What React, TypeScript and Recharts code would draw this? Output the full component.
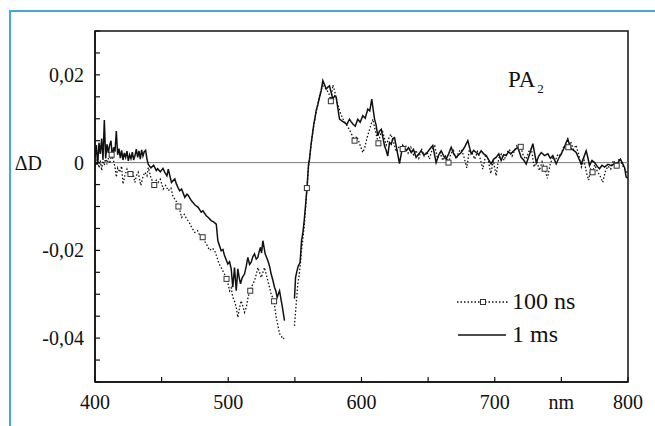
import React from 'react';
import { ComposedChart, Line, Scatter, XAxis, YAxis, ReferenceLine, ReferenceArea } from 'recharts';

// wavelength (nm) and ΔD for the 1 ms spectrum (solid line); null = gap in the trace
const solidNm = [400,401,402,403,404,405,406,407,408,409,410,411,412,413,414,415,416,417,418,419,420,421,422,423,424,425,426,427,428,429,430,431,432,433,434,435,436,437,438,439,440,442,444,446,447,449,451,452.4,454,455,457.4,459.9,461,462.5,463.6,465,467.4,469,470,472.4,474.9,477.4,479.7,481,483.5,485,487.2,489,491,492.2,494.7,496,497.2,499.7,501,502.2,503.4,504.7,506,507.2,508.2,509.2,510.5,512.2,513.5,514.7,516,517.2,518.5,519.7,521,522.2,523.2,524.2,525,526,527.7,529.7,531,532.2,533.5,534.7,535.7,536.7,537.5,538.5,539.5,540.2,541.2,542.2,546,549.7,550.5,551.5,552.5,553.9,555,556,557,558,559.2,560.2,561,562.2,563.2,564.2,565,566,567.2,568.5,569.8,571,572.2,573.5,574.8,576,577.2,578.5,579.8,581,582.2,583.5,585.3,587.2,589,591,592.3,593.5,595.3,597.2,599,601,602.8,604.7,606.2,607.7,608.8,609.8,611,612.2,613.5,614.8,616,617.3,618.5,619.7,621,622.3,623.5,624.8,626.5,628.5,631,633.5,635.3,637.3,639,641,643,644.8,646.7,648.5,651,653.5,656,658,659.8,661.7,663.5,665.4,667.3,669.2,671,673,674.8,677.3,679.8,682.3,684.2,686,688,689.8,691.7,693.6,695.5,697.3,699.2,701,703,704.8,706.7,708.6,710.3,712,714.6,717.3,719.8,721.7,723.6,726,728.6,731.2,733,734.9,737.4,739.9,741.7,743.6,746.1,748,749.9,751.8,753.6,754.8,756,757.4,759.3,761.1,763,764.9,766.8,768.6,770,771.1,773,774.9,776.8,778.6,780.5,782.4,785,787.4,790,792.4,794.3,796.1,797.5,798.6,800];
const solidVal = [0.001,0.004,-0.0005,0.0045,0.002,0.0055,0.0008,0.0097,0.001,0.0042,0.0022,0.004,0.005,0.0012,0.0035,0.0025,0.0072,0.0018,0.0032,0.001,0.0028,0.0006,0.0022,0.0012,0.0026,0.0004,0.0018,0.0009,0.0024,0.0006,0.0016,0.0031,0.0012,0.0027,0.0008,0.0029,0.0015,0.0025,0.0028,0.0008,-0.0004,-0.0012,-0.0006,-0.0018,-0.0014,-0.0021,-0.0013,-0.0022,-0.003,-0.0015,-0.0045,-0.0037,-0.0048,-0.0058,-0.0064,-0.006,-0.0079,-0.0072,-0.0075,-0.0087,-0.0096,-0.0102,-0.0113,-0.011,-0.0121,-0.0125,-0.0132,-0.0135,-0.014,-0.0178,-0.0201,-0.0198,-0.0212,-0.0231,-0.0226,-0.0242,-0.0284,-0.0239,-0.0292,-0.0242,-0.0262,-0.0276,-0.0262,-0.0254,-0.0236,-0.0216,-0.0232,-0.0227,-0.0214,-0.0208,-0.022,-0.0216,-0.0203,-0.0193,-0.0206,-0.0178,-0.0208,-0.0223,-0.0236,-0.0254,-0.0268,-0.0284,-0.0292,-0.0307,-0.03,-0.0292,-0.031,-0.0322,-0.034,-0.036,null,-0.031,-0.0262,-0.0248,-0.0236,-0.0228,-0.0178,-0.016,-0.0132,-0.0098,-0.0055,-0.0005,0.0008,0.0043,0.0065,0.0088,0.01,0.0119,0.0132,0.0149,0.0165,0.0187,0.0178,0.0168,0.0172,0.0175,0.016,0.0145,0.0152,0.0149,0.0125,0.0099,0.0095,0.0091,0.0087,0.0099,0.0093,0.0088,0.0083,0.0099,0.0092,0.0107,0.0101,0.0122,0.0118,0.0145,0.012,0.0099,0.0085,0.0061,0.0072,0.0076,0.0058,0.0038,0.0028,0.0015,0.0046,0.0042,0.0055,0.0057,0.003,-0.0002,0.0039,0.0027,0.0034,0.0023,0.003,0.0012,0.002,0.0027,0.0018,0.002,0.003,0.0039,0,0.0018,0.0027,0.0015,0.0008,0.002,0.0035,0.002,0.0012,0.0018,0.0023,0.0035,0.005,0.002,0.0028,0.0023,0.0018,0.0027,0.002,0.0016,0.0006,-0.0003,0.0008,0.0012,0.002,0.0005,0.0018,0.0016,0.0025,0.002,0.0028,0.0035,0.0012,0.0006,-0.0003,0.0018,0.0043,0,0.0015,0.0023,0.0016,0.002,0.001,0.0016,-0.0003,0.001,0.002,0.0032,0.0046,0.0054,0.0042,0.0031,0.0028,0.0023,0.001,-0.0003,0.0012,0.0027,0.001,-0.0007,0.0005,0,-0.0008,-0.0014,-0.0006,-0.001,-0.0004,-0.0007,-0.0002,0,0.0008,-0.0003,-0.0012,-0.0033,-0.0035];

// wavelength (nm) and ΔD for the 100 ns spectrum (dotted line)
const dottedNm = [400,401,402,403,404,405,406,407,408,409,410,411,412.5,414,415,416,417,418.6,420,421,422.4,424,425.5,426.6,428,430,431,432.4,434.4,436,437.4,439,440,442,444.5,446,447.4,449,451.2,453,455,457,458.7,460.5,462.6,464,465,467,468.7,470.5,472.4,474.9,477,478.6,480.8,482.5,484,486,488,489.7,491.5,493,494.7,496.5,498.7,500,501,502.2,503.4,505,506,507.2,508.5,509.7,511,512.2,513.5,515,516.5,518,519.7,521,522.2,523.5,524.7,526,527.2,528.5,529.7,531,532.2,534.4,536,537.2,538.5,539.8,541,542,546,549.7,551,552.2,553,554,555,556,557,558,559,560,561,562,563,564,565,566,567,568,569,570,571,572.5,574,575.5,577,578.5,580,581.5,583,584.5,586,587.5,589,591,593,594.8,596.5,598,599.5,601,602.5,604,605.5,607,608.5,610,611.5,612.7,614,615.5,617,618.5,620,622,624,626,628,630.9,633,635,637,639,641,643,645,647,649,651,653,655,657,659,661,663,665.3,667,669,671,673,675,677,679,681,683,685,687,689,691,693,695,697,699,701,703,705,707,709,711,713,715,717,719.5,721.5,723.5,725.5,727.5,729.5,731.5,733.5,735.5,737.4,739.5,741.5,743.5,745.5,747.5,749.5,751.5,753.5,755.2,757,759,761,763,765,767,769,770.5,772,773.4,775,777,779,781,783,785,787,789,791.5,793.5,795.5,797.5,800];
const dottedVal = [-0.0003,-0.0007,0.0015,-0.0012,0.0005,-0.0018,0.0008,-0.0006,0.0012,-0.0004,0.001,-0.0002,0.0018,0.0003,-0.001,-0.0033,-0.0012,-0.0022,-0.0008,-0.0049,-0.003,-0.0015,-0.0028,-0.0026,-0.0018,-0.0045,-0.003,-0.0022,-0.0052,-0.0032,-0.0022,-0.003,-0.0011,-0.0035,-0.0051,-0.004,-0.0045,-0.0038,-0.006,-0.0052,-0.0064,-0.0058,-0.0079,-0.0085,-0.01,-0.0112,-0.0125,-0.0118,-0.0128,-0.0135,-0.0147,-0.0159,-0.0155,-0.0166,-0.017,-0.018,-0.0188,-0.02,-0.0195,-0.02,-0.0215,-0.023,-0.0239,-0.025,-0.0265,-0.0278,-0.0292,-0.0285,-0.0307,-0.0318,-0.033,-0.0353,-0.033,-0.0315,-0.0328,-0.0341,-0.033,-0.0305,-0.0292,-0.028,-0.0269,-0.0255,-0.0239,-0.025,-0.0262,-0.025,-0.0239,-0.0255,-0.0269,-0.0285,-0.0299,-0.0316,-0.0353,-0.037,-0.039,-0.0395,-0.0402,-0.04,null,-0.0372,-0.0321,-0.0277,-0.0261,-0.0235,-0.02,-0.0175,-0.0145,-0.0105,-0.0058,-0.002,0.001,0.0035,0.006,0.008,0.01,0.0115,0.013,0.0145,0.0158,0.0168,0.0175,0.0172,0.0165,0.0158,0.014,0.0177,0.0162,0.014,0.0125,0.011,0.01,0.0092,0.0085,0.0075,0.0062,0.005,0.006,0.0048,0.0035,0.0023,0.0035,0.0055,0.007,0.0085,0.0099,0.0078,0.0058,0.0044,0.0062,0.0075,0.0058,0.004,0.0052,0.0065,0.0048,0.0025,0.0035,0.0031,0.004,0.0022,0.0035,0.0018,0.0028,0.001,0.0032,0.0015,0.0025,0.0008,0.003,0.0038,0.001,0.0022,0.0005,0.0015,0,0.002,0.0028,0.0008,0.0025,0.003,0.0012,-0.0012,0.003,0.0022,0.0008,0.0025,0.001,-0.0015,0.0015,0.0008,-0.0025,0.0005,-0.003,0.001,0.002,0.0005,0.0022,0.003,0.0015,0.0028,0.0042,0.0036,0.0015,0.0008,0.0025,0.0032,-0.001,0.0005,-0.0018,0.0002,-0.0014,-0.0036,-0.0005,0.0012,0.0005,0.002,0.0015,0.0035,0.004,0.0035,0.0048,0.003,0.004,0.0018,-0.001,0.0005,-0.0025,-0.004,-0.0015,-0.0022,-0.0005,-0.002,-0.003,-0.0045,-0.002,-0.0008,-0.0015,0.0005,-0.0007,0.001,-0.0004,-0.0015,-0.0025];

// square markers on the 100 ns trace
const markerNm = [412.5,426.6,444.5,462.6,480.8,498.7,516.5,534.4,559,577,594.8,612.7,630.9,665.3,719.5,737.4,755.2,773.4,791.5];
const markerVal = [0.0018,-0.0026,-0.0051,-0.01,-0.017,-0.0265,-0.0292,-0.0316,-0.0058,0.014,0.005,0.0044,0.0031,0,0.0036,-0.0014,0.0035,-0.0022,-0.0007];

const xTicks = [400,450,500,550,600,650,700,750,800];
const xTickLabels: Record<number,string> = {400:'400',500:'500',600:'600',700:'700',750:'nm',800:'800'};
const yTicks = [-0.05,-0.045,-0.04,-0.035,-0.03,-0.025,-0.02,-0.015,-0.01,-0.005,0,0.005,0.01,0.015,0.02,0.025,0.03];
const yTickLabels: [number,string][] = [[0.02,'0,02'],[0,'0'],[-0.02,'-0,02'],[-0.04,'-0,04']];

const seriesNames = ['100 ns', '1 ms'];
const yAxisTitle = 'ΔD';

const solidData = solidNm.map((nm, i) => ({ nm, v: solidVal[i] }));
const dottedData = dottedNm.map((nm, i) => ({ nm, v: dottedVal[i] }));
const markerData = markerNm.map((nm, i) => ({ nm, v: markerVal[i] }));

const FONT = '"Liberation Serif", "Times New Roman", serif';

const SquareShape = (props: any) => {
  const { cx, cy } = props;
  if (cx == null || cy == null) return null;
  return <rect x={cx - 2.5} y={cy - 2.5} width={5} height={5} fill="#fff" stroke="#333" strokeWidth={1} />;
};

const yFmt = (v: number) => {
  const hit = yTickLabels.find(([val]) => Math.abs(val - v) < 1e-6);
  return hit ? hit[1] : '';
};
const xFmt = (v: number) => xTickLabels[v] ?? '';

export default function App() {
  return (
    <div style={{ position: 'absolute', left: 0, top: 0, width: 655, height: 426, background: '#fff', overflow: 'hidden' }}>
      <div style={{ position: 'absolute', left: 9, top: 10, width: 660, height: 430, borderLeft: '2px solid #45a8dd', borderTop: '2px solid #45a8dd' }} />
      <ComposedChart width={655} height={426} margin={{ top: 31, right: 27, bottom: 14, left: 10 }}>
        <XAxis
          type="number"
          dataKey="nm"
          domain={[400, 800]}
          ticks={xTicks}
          tickFormatter={xFmt}
          allowDataOverflow
          height={30}
          axisLine={{ stroke: '#111', strokeWidth: 1.5 }}
          tickLine={{ stroke: '#111', strokeWidth: 1.2 }}
          tickSize={-5}
          tickMargin={18}
          interval={0}
          tick={{ fill: '#111', fontFamily: FONT, fontSize: 20 }}
        />
        <YAxis
          type="number"
          dataKey="v"
          domain={[-0.05, 0.03]}
          ticks={yTicks}
          tickFormatter={yFmt}
          allowDataOverflow
          width={85}
          axisLine={{ stroke: '#111', strokeWidth: 1.5 }}
          tickLine={{ stroke: '#111', strokeWidth: 1.2 }}
          tickSize={-5}
          tickMargin={16}
          interval={0}
          tick={{ fill: '#111', fontFamily: FONT, fontSize: 20 }}
        />
        <ReferenceArea x1={400} x2={800} y1={-0.05} y2={0.03} fill="none" stroke="#111" strokeWidth={1.5} ifOverflow="visible" />
        <ReferenceLine
          y={0}
          stroke="#777"
          strokeWidth={1}
          label={{ value: yAxisTitle, position: 'left', offset: 53, fill: '#111', fontFamily: FONT, fontSize: 20 }}
        />
        <Line data={dottedData} dataKey="v" type="linear" stroke="#111" strokeWidth={1.3} strokeDasharray="1.5 2" dot={false} connectNulls={false} isAnimationActive={false} name={seriesNames[0]} />
        <Line data={solidData} dataKey="v" type="linear" stroke="#111" strokeWidth={1.5} dot={false} connectNulls={false} isAnimationActive={false} name={seriesNames[1]} />
        <Scatter data={markerData} dataKey="v" shape={SquareShape} isAnimationActive={false} legendType="none" />
      </ComposedChart>
      <div style={{ position: 'absolute', left: 455, top: 285, fontFamily: FONT, fontSize: 24, color: '#111', lineHeight: '33px' }}>
        <div style={{ display: 'flex', alignItems: 'center', height: 33 }}>
          <svg width={56} height={20}>
            <line x1={2} y1={10} x2={54} y2={10} stroke="#111" strokeWidth={1.3} strokeDasharray="1.5 2" />
            <rect x={25.5} y={7.5} width={5} height={5} fill="#fff" stroke="#333" />
          </svg>
          <span style={{ marginLeft: 1 }}>{seriesNames[0]}</span>
        </div>
        <div style={{ display: 'flex', alignItems: 'center', height: 33 }}>
          <svg width={56} height={20}>
            <line x1={3} y1={10} x2={51} y2={10} stroke="#111" strokeWidth={1.5} />
          </svg>
          <span style={{ marginLeft: 1 }}>{seriesNames[1]}</span>
        </div>
      </div>
      <div style={{ position: 'absolute', left: 508, top: 67, fontFamily: FONT, fontSize: 23, color: '#111', lineHeight: '26px', whiteSpace: 'nowrap' }}>
        PA<sub style={{ fontSize: 13, verticalAlign: 'sub', marginLeft: 2 }}>2</sub>
      </div>
    </div>
  );
}
